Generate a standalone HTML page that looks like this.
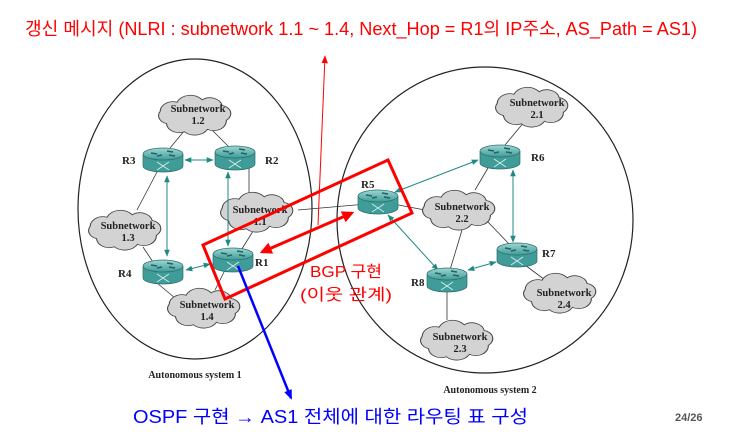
<!DOCTYPE html>
<html><head><meta charset="utf-8"><style>
body{margin:0;background:#fff;width:746px;height:434px;overflow:hidden}
svg{display:block}
.rl{font-family:"Liberation Serif",serif;font-weight:bold;font-size:11px;fill:#222}
.cl{font-family:"Liberation Serif",serif;font-weight:bold;font-size:10.5px;fill:#222;text-anchor:middle}
.kr{font-family:"Liberation Sans","Noto Sans CJK KR",sans-serif}
</style></head><body>
<svg width="746" height="434" viewBox="0 0 746 434" xmlns="http://www.w3.org/2000/svg">
<defs>
<marker id="ta" viewBox="0 0 10 10" refX="9" refY="5" markerWidth="7" markerHeight="7" orient="auto-start-reverse"><path d="M0,1 L10,5 L0,9 z" fill="#1f8a84"/></marker>
<marker id="ra" viewBox="0 0 10 10" refX="8" refY="5" markerWidth="4" markerHeight="4" orient="auto-start-reverse"><path d="M0,0 L10,5 L0,10 z" fill="#f00"/></marker>
<marker id="rt" viewBox="0 0 10 10" refX="9" refY="5" markerWidth="8" markerHeight="8" orient="auto"><path d="M0,1 L10,5 L0,9 z" fill="#f00"/></marker>
<marker id="ba" viewBox="0 0 10 10" refX="8" refY="5" markerWidth="4" markerHeight="4" orient="auto"><path d="M0,1 L10,5 L0,9 z" fill="#00f"/></marker>
<linearGradient id="rg" x1="0" y1="0" x2="0" y2="1"><stop offset="0" stop-color="#9fd6d4"/><stop offset="1" stop-color="#3f9c98"/></linearGradient>
<g id="cloud"><path transform="scale(1.05,0.82)" d="M-30,8 a10,10 0 0 1 -6,-15 a12,12 0 0 1 16,-11 a14,14 0 0 1 24,-3 a12,12 0 0 1 19,7 a10,10 0 0 1 4,18 a12,12 0 0 1 -18,11 a14,14 0 0 1 -22,3 a12,12 0 0 1 -17,-10 z" fill="#d3d3d3" stroke="#444" stroke-width="1"/></g>
<g id="rt1"><path d="M-20,-6 v12 a20,6 0 0 0 40,0 v-12" fill="#3f9c98" stroke="#2c6f6c" stroke-width=".7"/><ellipse cx="0" cy="-6" rx="20" ry="6" fill="url(#rg)" stroke="#2c6f6c" stroke-width=".7"/><path d="M-12,-7 l6,1 M4,-9 l6,1 M-6,-4 l5,-1 M6,-5 l6,1" stroke="#1f6562" stroke-width="1.6"/><path d="M-6,2 l12,8 M6,2 l-12,8" stroke="#d8f0ef" stroke-width=".8"/></g>
</defs>
<ellipse cx="195" cy="209" rx="117" ry="150" fill="none" stroke="#222" stroke-width="1.2"/>
<ellipse cx="485" cy="220" rx="148" ry="153" fill="none" stroke="#222" stroke-width="1.2"/>
<g stroke="#333" stroke-width=".8">
<line x1="185" y1="130" x2="170" y2="148"/><line x1="212" y1="130" x2="230" y2="148"/>
<line x1="249" y1="166" x2="249" y2="196"/><line x1="255" y1="228" x2="240" y2="252"/>
<line x1="157" y1="172" x2="137" y2="210"/><line x1="143" y1="247" x2="155" y2="265"/>
<line x1="157" y1="283" x2="175" y2="298"/><line x1="225" y1="270" x2="215" y2="290"/>
<line x1="298" y1="210" x2="378" y2="203"/>
<line x1="393" y1="204" x2="425" y2="210"/><line x1="525" y1="121" x2="505" y2="145"/>
<line x1="488" y1="168" x2="475" y2="190"/><line x1="462" y1="230" x2="450" y2="270"/>
<line x1="488" y1="222" x2="510" y2="245"/><line x1="525" y1="265" x2="545" y2="280"/>
<line x1="447" y1="292" x2="447" y2="320"/>
</g>
<use href="#cloud" x="198" y="117"/><use href="#cloud" x="260" y="214"/>
<use href="#cloud" x="128" y="232"/><use href="#cloud" x="207" y="310"/>
<use href="#cloud" x="535" y="109"/><use href="#cloud" x="462" y="212"/>
<use href="#cloud" x="563" y="295"/><use href="#cloud" x="460" y="342"/>
<g>
<text class="cl" x="198" y="112">Subnetwork</text><text class="cl" x="198" y="124">1.2</text>
<text class="cl" x="260" y="213">Subnetwork</text><text class="cl" x="260" y="225">1.1</text>
<text class="cl" x="128" y="229">Subnetwork</text><text class="cl" x="128" y="241">1.3</text>
<text class="cl" x="207" y="308">Subnetwork</text><text class="cl" x="207" y="320">1.4</text>
<text class="cl" x="537" y="106">Subnetwork</text><text class="cl" x="537" y="118">2.1</text>
<text class="cl" x="462" y="210">Subnetwork</text><text class="cl" x="462" y="222">2.2</text>
<text class="cl" x="564" y="296">Subnetwork</text><text class="cl" x="564" y="308">2.4</text>
<text class="cl" x="460" y="340">Subnetwork</text><text class="cl" x="460" y="352">2.3</text>
</g>
<g stroke="#1f8a84" stroke-width="1" marker-start="url(#ta)" marker-end="url(#ta)">
<line x1="185" y1="160" x2="213" y2="160"/><line x1="167" y1="176" x2="167" y2="256"/>
<line x1="228" y1="172" x2="228" y2="246"/><line x1="186" y1="270" x2="210" y2="264"/>
<line x1="395" y1="192" x2="478" y2="160"/><line x1="388" y1="215" x2="438" y2="270"/>
<line x1="513" y1="170" x2="513" y2="242"/><line x1="468" y1="270" x2="496" y2="262"/>
</g>
<use href="#rt1" x="163" y="160"/><use href="#rt1" x="235" y="158"/>
<use href="#rt1" x="163" y="272"/><use href="#rt1" x="233" y="260"/>
<use href="#rt1" x="378" y="202"/><use href="#rt1" x="500" y="157"/>
<use href="#rt1" x="517" y="255"/><use href="#rt1" x="447" y="280"/>
<g class="rl">
<text x="122" y="164">R3</text><text x="265" y="164">R2</text>
<text x="118" y="277">R4</text><text x="255" y="266">R1</text>
<text x="361" y="188">R5</text><text x="531" y="161">R6</text>
<text x="542" y="257">R7</text><text x="411" y="286">R8</text>
</g>
<text x="195" y="378" class="cl" style="font-size:10px">Autonomous system 1</text>
<text x="490" y="393" class="cl" style="font-size:10px">Autonomous system 2</text>
<polygon points="203,245 388,160 412,213 225,299" fill="none" stroke="#f00" stroke-width="3"/>
<line x1="262" y1="252" x2="352" y2="213" stroke="#f00" stroke-width="3" marker-start="url(#ra)" marker-end="url(#ra)"/>
<line x1="318" y1="225" x2="325" y2="56" stroke="#f00" stroke-width="1" marker-end="url(#rt)"/>
<line x1="238" y1="266" x2="291" y2="398" stroke="#00f" stroke-width="2.5" marker-end="url(#ba)"/>
<text class="kr" x="25" y="35" font-size="18" fill="#f00" textLength="672" lengthAdjust="spacingAndGlyphs">갱신 메시지 (NLRI : subnetwork 1.1 ~ 1.4, Next_Hop = R1의 IP주소, AS_Path = AS1)</text>
<text class="kr" x="310" y="277" font-size="16" fill="#f00" textLength="72" lengthAdjust="spacingAndGlyphs">BGP 구현</text>
<text class="kr" x="300" y="300" font-size="16" fill="#f00" textLength="92" lengthAdjust="spacingAndGlyphs">(이웃 관계)</text>
<text class="kr" x="133" y="423" font-size="18" fill="#00f" textLength="395" lengthAdjust="spacingAndGlyphs">OSPF 구현 → AS1 전체에 대한 라우팅 표 구성</text>
<text x="675" y="421" font-family="Liberation Sans,sans-serif" font-weight="bold" font-size="11" fill="#555">24/26</text>
</svg>
</body></html>
